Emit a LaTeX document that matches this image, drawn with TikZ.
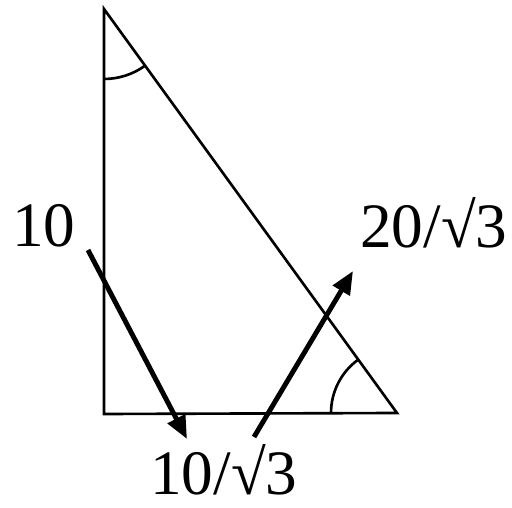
\documentclass[tikz,border=0pt]{standalone}
\usepackage{fontspec}
\setmainfont{Liberation Serif}
\usetikzlibrary{arrows.meta}

\tikzset{
    side/.style={line width=1.5pt},
    anglearc/.style={line width=1.5pt},
    force/.style={line width=2.8pt, -{Triangle[length=0.46cm,width=0.38cm]}},
    lbl/.style={inner sep=0pt, anchor=base west, font=\fontsize{36}{40}\selectfont}
}

\begin{document}
\begin{tikzpicture}[x=0.02cm,y=0.02cm]
\useasboundingbox (0,0) rectangle (512,508);

% triangle
\coordinate (top) at (104,499);
\coordinate (bl) at (104,94);
\coordinate (br) at (397,95);
\draw[side] (top) -- (bl) -- (br) -- cycle;

% angle marks
\draw[anglearc] ([yshift=-1.4cm]top) arc[start angle=-90, end angle=-54, radius=70];
\draw[anglearc] ([xshift=-1.32cm]br) arc[start angle=180, end angle=126, radius=66];

% arrows
\coordinate (a1s) at (88,258);
\coordinate (a1e) at (187,69);
\coordinate (a2s) at (254,71);
\coordinate (a2e) at (353,237);
\draw[force] (a1s) -- (a1e);
\draw[force] (a2s) -- (a2e);

% labels
\node[lbl] (ten) at (12,261) {10};
\node[lbl] (hyp) at (360,260) {20/√3};
\node[lbl] (base) at (150,13) {10/√3};
\end{tikzpicture}
\end{document}
